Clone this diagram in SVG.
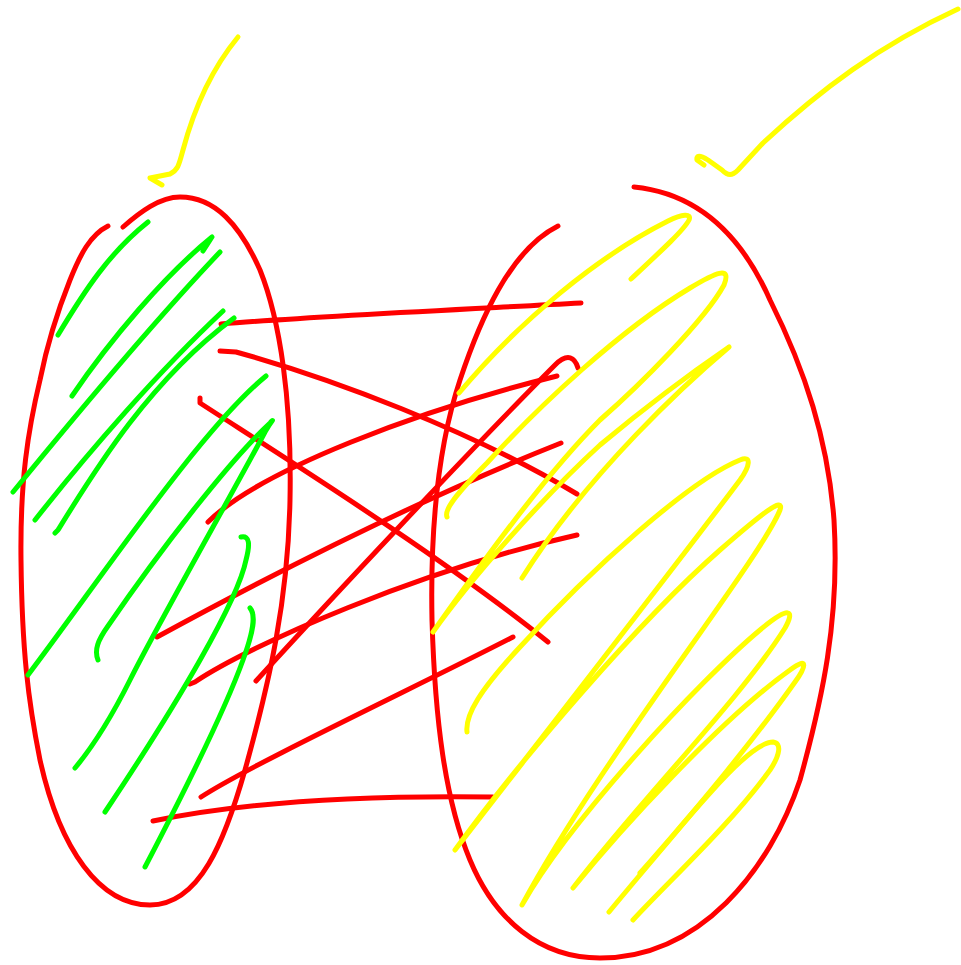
<svg xmlns="http://www.w3.org/2000/svg" width="961" height="965" viewBox="0 0 961 965">
<style>
path{fill:none;stroke-width:5;stroke-linecap:round;stroke-linejoin:round}
.r{stroke:#ff0000}
.g{stroke:#00ff00}
.y{stroke:#ffff00}
</style>
<rect width="961" height="965" fill="#ffffff"/>
<g id="left-set">
<path class="r" d="M108,226 C90,235 80,255 70,280 C58,310 48,340 40,380 C28,430 20,480 21,560 C22,650 28,700 40,760 C60,850 100,905 150,905 C200,905 225,840 245,770 C270,680 288,600 290,500 C292,400 280,320 260,270 C240,225 215,197 180,197 C160,197 140,212 123,227"/>
</g>
<g id="right-set">
<path class="r" d="M634,187 C695,193 740,232 770,300 C805,370 828,440 834,520 C840,620 822,700 800,780 C770,870 700,958 600,958 C540,958 495,920 470,860 C445,800 435,720 432,620 C430,520 440,440 460,380 C480,320 510,250 558,226"/>
</g>
<g id="connectors">
<path class="r" d="M221,324 C300,317 450,310 581,303"/>
<path class="r" d="M220,351 L236,352 C330,378 470,430 577,494"/>
<path class="r" d="M200,398 L200,403 C280,455 440,555 548,642"/>
<path class="r" d="M208,522 C260,470 420,410 557,376"/>
<path class="r" d="M157,637 C280,570 430,495 561,443"/>
<path class="r" d="M190,684 L195,682 C250,645 420,570 577,535"/>
<path class="r" d="M256,681 C330,600 470,450 555,365 C568,352 575,358 578,368"/>
<path class="r" d="M201,797 C250,765 420,685 513,637"/>
<path class="r" d="M153,821 C240,803 350,795 493,797"/>
</g>
<g id="left-fill">
<path class="g" d="M58,335 C85,290 110,252 148,222"/>
<path class="g" d="M72,396 C110,340 165,275 212,237 L203,251"/>
<path class="g" d="M13,492 C80,410 160,315 220,252"/>
<path class="g" d="M35,520 C90,450 160,370 223,311"/>
<path class="g" d="M55,533 L58,530 C95,470 150,380 234,318"/>
<path class="g" d="M28,675 C100,580 200,430 266,376"/>
<path class="g" d="M98,660 C94,650 98,640 108,626 C160,550 230,460 270,423 C275,418 272,420 265,432 C240,480 160,620 130,680 C110,720 90,750 75,768"/>
<path class="g" d="M241,537 C250,535 250,545 246,560 C238,600 180,700 105,812"/>
<path class="g" d="M250,608 C256,615 254,630 243,660 C225,710 180,800 145,867"/>
</g>
<g id="right-fill">
<path class="y" d="M631,279 C660,252 684,230 689,220 C692,213 682,214 668,221 C600,255 520,320 459,393"/>
<path class="y" d="M447,517 C444,510 455,495 487,463 C540,405 620,330 690,288 C715,273 732,265 724,285 C705,320 640,385 600,420 C540,480 470,580 433,632 C470,580 540,500 600,445 C660,395 710,360 729,347 C690,380 590,470 522,578"/>
<path class="y" d="M467,732 C465,715 480,690 520,647 C590,570 690,480 740,460 C752,455 750,466 740,480 C680,560 540,740 455,850 C520,760 640,620 720,550 C760,515 785,495 780,510 C760,560 600,760 522,905 C570,820 700,680 760,630 C790,605 795,610 785,628 C740,700 640,800 573,888 C620,830 720,720 790,670 C810,655 805,668 795,682 C740,760 660,850 609,912"/>
<path class="y" d="M640,873 C665,845 690,815 710,793 C735,765 760,742 773,742 C782,743 780,755 770,770 C730,825 670,880 633,920"/>
</g>
<g id="arrows">
<path class="y" d="M238,37 C215,65 195,105 183,150 C179,165 178,170 170,174 L150,178 L162,185"/>
<path class="y" d="M958,9 C880,45 820,90 763,143 L738,170 C732,176 728,176 722,170 L708,160 C700,155 696,155 697,160 L704,165"/>
</g>
</svg>
